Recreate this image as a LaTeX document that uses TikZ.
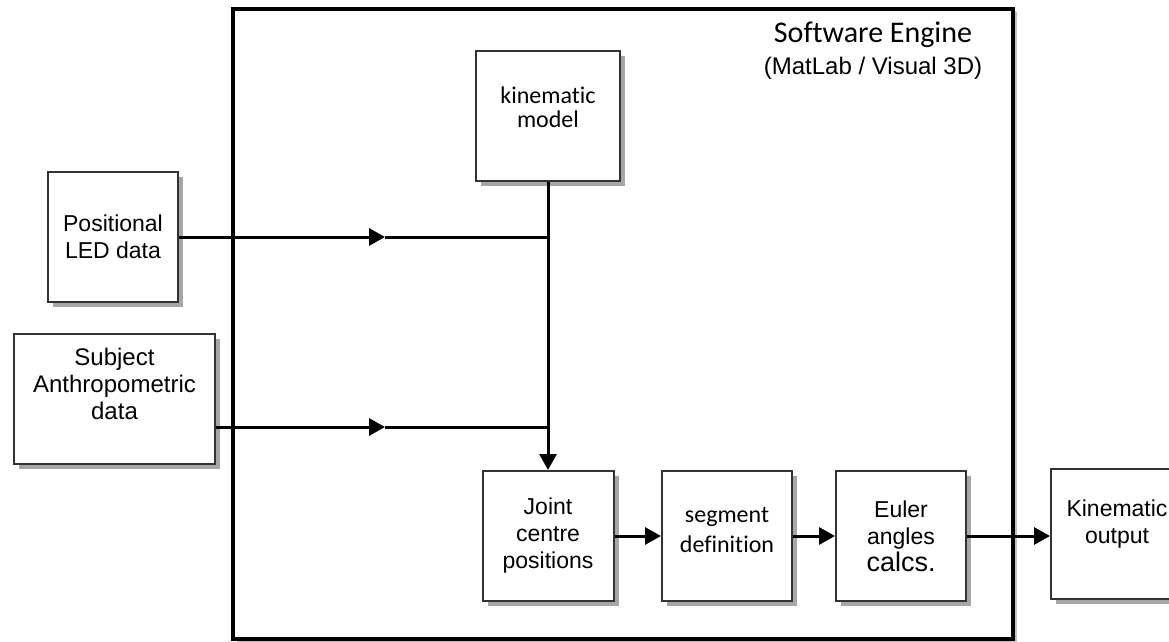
\documentclass[tikz,border=0pt]{standalone}
\usepackage{fontspec}
\setmainfont{Liberation Sans}
\newfontfamily\calfont[Ligatures=NoCommon]{Carlito}
\usetikzlibrary{arrows.meta,shadows}
\newcommand{\lift}[2]{\raisebox{#1}[\height][\depth]{\begin{tabular}{@{}c@{}}#2\end{tabular}}}

\tikzset{
  blk/.style={draw=black!80, line width=2pt, fill=white, align=center,
    minimum width=130pt, minimum height=130pt, inner sep=2pt,
    font=\fontsize{23}{27}\selectfont,
    drop shadow={shadow xshift=5pt, shadow yshift=-5pt, fill=black!35, opacity=1}},
  frame/.style={draw=black, line width=4pt, fill=white,
    drop shadow={shadow xshift=4pt, shadow yshift=-3pt, fill=black!25, opacity=1}},
  flow/.style={line width=3pt, -{Triangle[length=16pt,width=17pt]}},
  plain/.style={line width=3pt}
}

\begin{document}
\begin{tikzpicture}[x=1pt,y=-1pt]
\useasboundingbox (0,0) rectangle (1169,642);
\node[frame, minimum width=780pt, minimum height=630pt] (eng) at (623,324) {};
\node (title) at (873,35) {\calfont\fontsize{30}{34}\selectfont Software Engine};
\node (sub) at (873,68) {\fontsize{24}{28}\selectfont (MatLab / Visual 3D)};
\node[blk, minimum width=144pt, font=\calfont\fontsize{24}{24}\selectfont] (model) at (548,116) {\lift{5pt}{kinematic\\model}};
\node[blk] (led) at (113,237) {Positional\\LED data};
\node[blk, minimum width=201pt, font=\fontsize{24}{27}\selectfont] (anthro) at (114.5,399) {\lift{12pt}{Subject\\Anthropometric\\data}};
\node[blk, minimum width=131pt] (joint) at (548,536) {Joint\\centre\\positions};
\node[blk, font=\calfont\fontsize{24}{30}\selectfont] (seg) at (727,536) {\lift{5pt}{segment\\definition}};
\node[blk] (euler) at (901,536) {Euler\\angles\\{\fontsize{27}{30}\selectfont calcs.}};
\node[blk, minimum width=132pt] (out) at (1117,534) {\lift{9pt}{Kinematic\\output}};
\coordinate (a1) at (385,237);
\coordinate (a2) at (385,427);
\coordinate (j1) at (548,237);
\coordinate (j2) at (548,427);
\draw[flow] (led.east) -- (a1);
\draw[plain] (a1) -- (j1);
\draw[flow] (anthro.east |- a2) -- (a2);
\draw[plain] (a2) -- (j2);
\draw[flow] (model) -- (joint);
\draw[flow] (joint) -- (seg);
\draw[flow] (seg) -- (euler);
\draw[flow] (euler.east) -- (out.west |- euler.east);
\end{tikzpicture}
\end{document}
